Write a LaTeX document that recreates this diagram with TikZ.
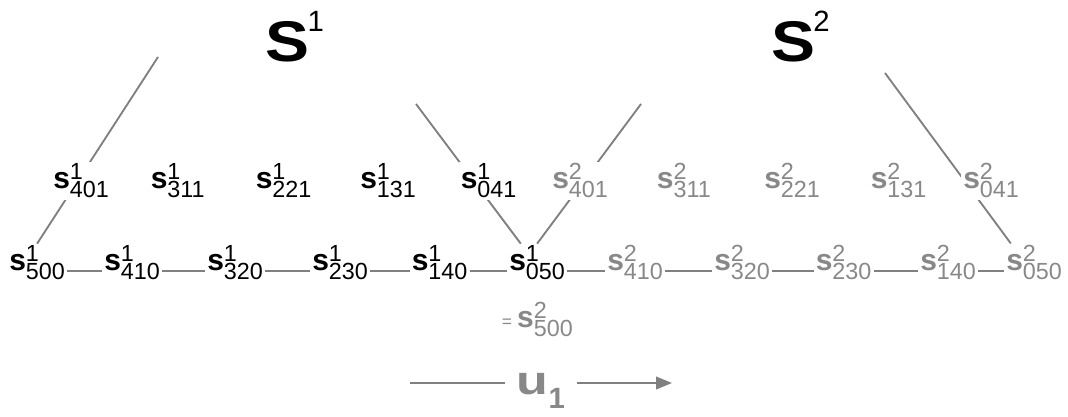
\documentclass[tikz,border=0pt]{standalone}
\usepackage{fontspec}
\setmainfont{Liberation Sans}
\usepackage{graphicx}
\usepackage{tikz}
\usetikzlibrary{arrows.meta}
\definecolor{inkgray}{RGB}{136,136,136}
\definecolor{edgegray}{RGB}{128,128,128}

% vertex label: bold s with stacked upper and lower index
\newcommand{\scr}{\fontsize{17.5}{18}\selectfont}
\newcommand{\sidx}[2]{\textbf{s}\rlap{\raisebox{6.75pt}{\scr #1}}\raisebox{-6.75pt}{\scr #2}}
% simplex label
\newcommand{\simplexlab}[1]{\textbf{\scalebox{1.15}[1]{S}}\kern-1.5pt\raisebox{23pt}{\fontsize{22}{24}\selectfont #1}}

\tikzset{
  ptone/.style={font=\fontsize{22.5}{24}\selectfont, inner sep=1.5pt, anchor=base west, text=black},
  pttwo/.style={ptone, text=inkgray},
  inset/.style={fill=white},
  seg/.style={edgegray, line width=1.4pt},
  title/.style={font=\fontsize{43}{46}\selectfont, inner sep=0pt, anchor=base west}
}

\begin{document}
\begin{tikzpicture}[x=0.75pt, y=-0.75pt]
  \useasboundingbox (0,0) rectangle (1068,417);

  % Titles
  \node[title] (S1) at (265.5,62) {\simplexlab{1}};
  \node[title] (S2) at (771,62) {\simplexlab{2}};

  % Edge u1 of the first simplex
  \node[ptone] (s500a) at (7,271)   {\sidx{1}{500}};
  \node[ptone] (s410a) at (102,271) {\sidx{1}{410}};
  \node[ptone] (s320a) at (205,271) {\sidx{1}{320}};
  \node[ptone] (s230a) at (310,271) {\sidx{1}{230}};
  \node[ptone] (s140a) at (409.5,271) {\sidx{1}{140}};
  \node[ptone] (s050a) at (507,271) {\sidx{1}{050}};

  % Edge u1 of the second simplex
  \node[pttwo] (s410b) at (605,271)  {\sidx{2}{410}};
  \node[pttwo] (s320b) at (712,271)  {\sidx{2}{320}};
  \node[pttwo] (s230b) at (813.5,271) {\sidx{2}{230}};
  \node[pttwo] (s140b) at (918,271)  {\sidx{2}{140}};
  \node[pttwo] (s050b) at (1004,271) {\sidx{2}{050}};

  % shared vertex
  \node[pttwo] (s500b) at (499.5,327)
    {{\fontsize{13}{14}\selectfont =}\hspace{4pt}\sidx{2}{500}};

  % Bottom row links
  \draw[seg] (s500a.base east) -- (s410a.base west);
  \draw[seg] (s410a.base east) -- (s320a.base west);
  \draw[seg] (s320a.base east) -- (s230a.base west);
  \draw[seg] (s230a.base east) -- (s140a.base west);
  \draw[seg] (s140a.base east) -- (s050a.base west);
  \draw[seg] (s050a.base east) -- (s410b.base west);
  \draw[seg] (s410b.base east) -- (s320b.base west);
  \draw[seg] (s320b.base east) -- (s230b.base west);
  \draw[seg] (s230b.base east) -- (s140b.base west);
  \draw[seg] (s140b.base east) -- (s050b.base west);

  % Simplex sides
  \coordinate (t1l) at (158,57);
  \coordinate (t1r) at (416,104);
  \coordinate (t2l) at (641,104);
  \coordinate (t2r) at (885,73);
  \draw[seg] (t1l) -- (s500a.north);
  \draw[seg] (t1r) -- (s050a.130);
  \draw[seg] (t2l) -- (s050a.north);
  \draw[seg] (t2r) -- (s050b.140);

  % Second row (drawn over the sides)
  \node[ptone, inset] (s401a) at (51,189)    {\sidx{1}{401}};
  \node[ptone, inset] (s311a) at (148.5,189) {\sidx{1}{311}};
  \node[ptone, inset] (s221a) at (253.5,189) {\sidx{1}{221}};
  \node[ptone, inset] (s131a) at (358,189)   {\sidx{1}{131}};
  \node[ptone, inset] (s041a) at (458.5,189) {\sidx{1}{041}};
  \node[pttwo, inset] (s401b) at (550,189)   {\sidx{2}{401}};
  \node[pttwo, inset] (s311b) at (654.7,189) {\sidx{2}{311}};
  \node[pttwo, inset] (s221b) at (762,189)   {\sidx{2}{221}};
  \node[pttwo, inset] (s131b) at (868.5,189) {\sidx{2}{131}};
  \node[pttwo, inset] (s041b) at (961,189)   {\sidx{2}{041}};

  % Direction u1
  \coordinate (uL) at (410,383);
  \coordinate (uR) at (672,383);
  \draw[seg, -{Triangle[length=12pt, width=9.5pt]}] (uL) --
    node[inset, inner xsep=9pt, inner ysep=0pt, yshift=-6pt, text=inkgray,
         font=\fontsize{30}{32}\selectfont\bfseries] (ulab)
    {\scalebox{1.3}[1]{u}\raisebox{-11pt}{\fontsize{22}{24}\selectfont 1}} (uR);
\end{tikzpicture}
\end{document}
